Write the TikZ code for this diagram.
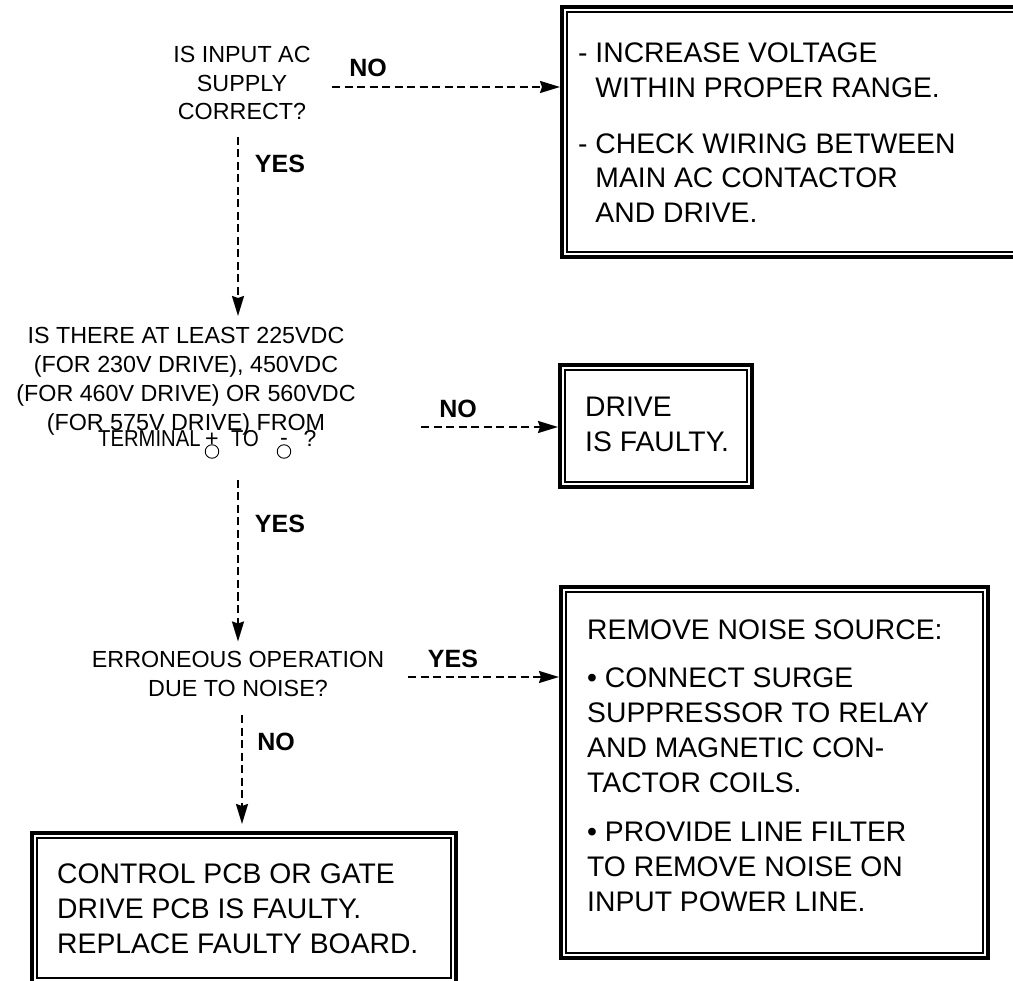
\documentclass[tikz,border=0pt]{standalone}
\usepackage{graphicx}
\usepackage{fontspec}
\setmainfont{Liberation Sans}
\usetikzlibrary{arrows.meta}
\begin{document}
\begin{tikzpicture}[x=1pt,y=-1pt,
  flow/.style={line width=2pt, dash pattern=on 8pt off 4.5pt, -{Stealth[length=20pt,width=12pt,inset=2pt]}},
  qtext/.style={font=\fontsize{23.3}{29}\selectfont, align=center, inner sep=0pt},
  ttext/.style={font=\fontsize{23}{27}\selectfont, inner sep=0pt},
  btext/.style={font=\fontsize{28.3}{35}\selectfont, align=left, inner sep=0pt, anchor=north west},
  lab/.style={font=\fontsize{25}{30}\selectfont\bfseries, inner sep=0pt, anchor=base},
  outerbox/.style={draw, line width=4pt, inner sep=0pt, rectangle},
  innerbox/.style={draw, line width=1.3pt, inner sep=0pt, rectangle},
  term/.style={circle, draw, line width=0.9pt, minimum size=13.5pt, inner sep=0pt},
]
\path[use as bounding box, clip] (0,0) rectangle (1013,981);
\fill[white] (0,0) rectangle (1013,981);

% boxes (outer thick line, inner thin line)
\node[outerbox, minimum width=478pt, minimum height=250pt] (b1) at (801,132) {};
\node[innerbox, minimum width=468pt, minimum height=240pt] (b1i) at (b1.center) {};
\node[outerbox, minimum width=192pt, minimum height=122pt] (b2) at (656,426) {};
\node[innerbox, minimum width=182pt, minimum height=112pt] (b2i) at (b2.center) {};
\node[outerbox, minimum width=427pt, minimum height=371pt] (b3) at (774.5,772.5) {};
\node[innerbox, minimum width=417pt, minimum height=361pt] (b3i) at (b3.center) {};
\node[outerbox, minimum width=424pt, minimum height=150pt] (b4) at (244,908) {};
\node[innerbox, minimum width=414pt, minimum height=140pt] (b4i) at (b4.center) {};

% box texts
\node[btext, font=\fontsize{28.3}{34.5}\selectfont] (t1) at (578,43) {- INCREASE VOLTAGE\\\phantom{- }WITHIN PROPER RANGE.\\[21.5pt]- CHECK WIRING BETWEEN\\\phantom{- }MAIN AC CONTACTOR\\\phantom{- }AND DRIVE.};
\node[btext] (t2) at (585,396.5) {DRIVE\\IS FAULTY.};
\node[btext] (t3) at (587,619.5) {REMOVE NOISE SOURCE:\\[13.5pt]\textbullet{} CONNECT SURGE\\SUPPRESSOR TO RELAY\\AND MAGNETIC CON-\\TACTOR COILS.\\[13.5pt]\textbullet{} PROVIDE LINE FILTER\\TO REMOVE NOISE ON\\INPUT POWER LINE.};
\node[btext] (t4) at (57,863.5) {CONTROL PCB OR GATE\\DRIVE PCB IS FAULTY.\\REPLACE FAULTY BOARD.};

% questions
\node[qtext, anchor=north, font=\fontsize{23.3}{28.5}\selectfont] (q1) at (242,46.3) {IS INPUT AC\\SUPPLY\\CORRECT?};
\node[qtext, anchor=north] (q2) at (186,327) {IS THERE AT LEAST 225VDC\\(FOR 230V DRIVE), 450VDC\\(FOR 460V DRIVE) OR 560VDC\\(FOR 575V DRIVE) FROM};
\node[ttext, anchor=base west] (tm) at (98,447) {\scalebox{0.88}[1]{TERMINAL}};
\node[term] (tp) at (212,451.5) {};
\node[qtext, anchor=base] (tps) at (212,446.5) {+};
\node[ttext, anchor=base] (tto) at (245,447) {\scalebox{0.88}[1]{TO}};
\node[term] (tn) at (284,451.5) {};
\node[qtext, anchor=base] (tns) at (284,445.5) {-};
\node[ttext, anchor=base] (tq) at (310,447) {?};
\node[qtext, anchor=north] (q3) at (238,651.5) {ERRONEOUS OPERATION\\DUE TO NOISE?};

% labels
\node[lab] (no1) at (368,77) {NO};
\node[lab] (yes1) at (280,173) {YES};
\node[lab] (no2) at (458,418) {NO};
\node[lab] (yes2) at (280,533) {YES};
\node[lab] (yes3) at (453,667) {YES};
\node[lab] (no3) at (276,750) {NO};

% connector end points near the questions
\coordinate (h1s) at (332,87);
\coordinate (v1s) at (238,137);
\coordinate (h2s) at (421,427);
\coordinate (v2s) at (238,480);
\coordinate (h3s) at (408,677);
\coordinate (v3s) at (242,715);

% connectors
\draw[flow] (h1s) -- (h1s -| b1.west);
\draw[flow, shorten >=11pt] (v1s) -- (v1s |- q2.north);
\draw[flow] (h2s) -- (h2s -| b2.west);
\draw[flow, shorten >=10pt] (v2s) -- (v2s |- q3.north);
\draw[flow] (h3s) -- (h3s -| b3.west);
\draw[flow, shorten >=7pt] (v3s) -- (v3s |- b4.north);
\end{tikzpicture}
\end{document}
